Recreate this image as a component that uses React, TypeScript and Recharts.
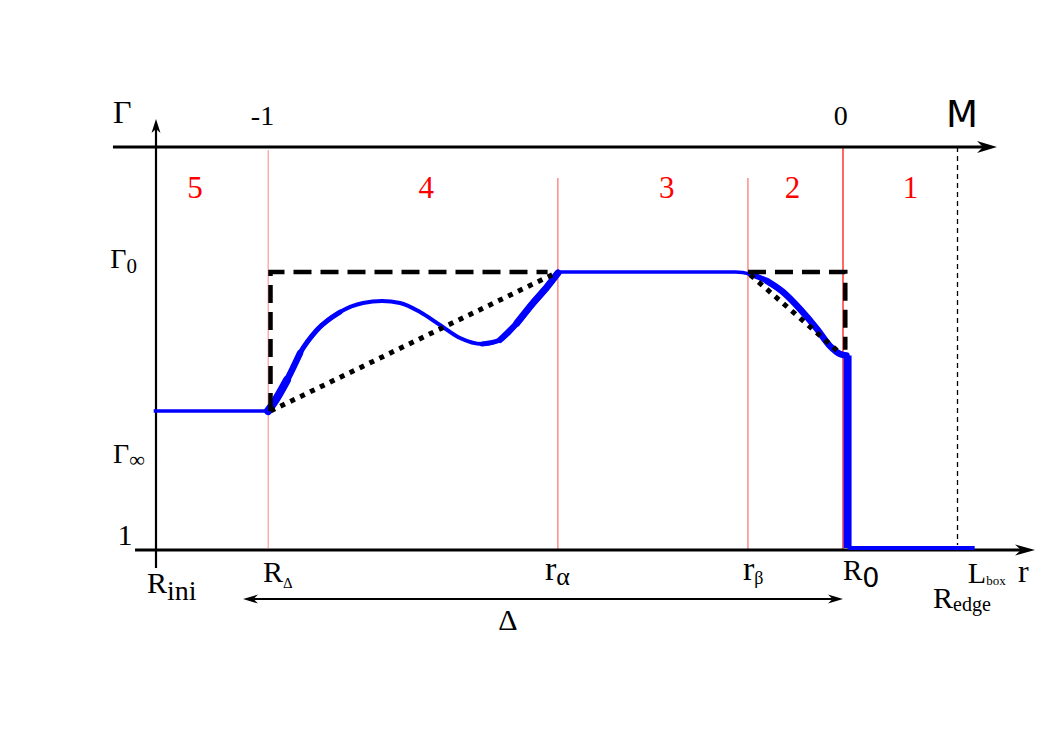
import { LineChart, Line, XAxis, YAxis, ReferenceLine, ReferenceDot } from "recharts"

// zone boundaries along r (arbitrary radius units)
const R_INI = 0
const R_DELTA = 0.98
const R_ALPHA = 3.51
const R_BETA = 5.17
const R_ZERO = 6.0
const L_BOX = 7.0

// Lorentz factor levels
const GAMMA_ONE = 1
const M_LEVEL = 3.9

const zoneNames = ["5", "4", "3", "2", "1"]
const zoneCenters = [0.34, 2.36, 4.46, 5.56, 6.59]
const massTicks = ["-1", "0"]
const massTickAt = [0.93, 5.98]

// blue profile
const plateau = [
  { r: -0.02, g: 2.0 },
  { r: 0.98, g: 2.0 },
]
const rise = [
  { r: 0.978, g: 2.0 },
  { r: 1.03, g: 2.06 },
  { r: 1.144, g: 2.223 },
  { r: 1.258, g: 2.417 },
  { r: 1.406, g: 2.583 },
  { r: 1.607, g: 2.712 },
  { r: 1.808, g: 2.777 },
  { r: 1.974, g: 2.791 },
  { r: 2.131, g: 2.777 },
  { r: 2.306, g: 2.712 },
  { r: 2.48, g: 2.619 },
  { r: 2.655, g: 2.525 },
  { r: 2.847, g: 2.482 },
  { r: 3.004, g: 2.511 },
  { r: 3.153, g: 2.633 },
  { r: 3.293, g: 2.777 },
  { r: 3.415, g: 2.892 },
  { r: 3.511, g: 2.993 },
]
const shell = [
  { r: 3.51, g: 3.0 },
  { r: 5.06, g: 3.0 },
  { r: 5.19, g: 2.985 },
  { r: 5.336, g: 2.935 },
  { r: 5.476, g: 2.856 },
  { r: 5.624, g: 2.734 },
  { r: 5.773, g: 2.59 },
  { r: 5.886, g: 2.468 },
  { r: 5.974, g: 2.41 },
  { r: 6.03, g: 2.4 },
]
const drop = [
  { r: 6.04, g: 2.4 },
  { r: 6.04, g: 1.015 },
]
const floor = [
  { r: 6.04, g: 1.014 },
  { r: 7.15, g: 1.014 },
]

// black dashed (top hat) and dotted (linear ramp) profiles
const hatA = [
  { r: 1.0, g: 2.0 },
  { r: 1.0, g: 3.0 },
  { r: 3.42, g: 3.0 },
]
const hatB = [
  { r: 5.17, g: 3.0 },
  { r: 6.02, g: 3.0 },
  { r: 6.02, g: 2.44 },
]
const rampA = [
  { r: 1.0, g: 2.0 },
  { r: 3.51, g: 3.0 },
]
const rampB = [
  { r: 5.19, g: 2.98 },
  { r: 5.97, g: 2.42 },
]

const serif = "'Liberation Serif', 'Times New Roman', serif"
const sans = "'DejaVu Sans', sans-serif"
const BLUE = "#0000ff"

function arrowShape(len: number, half: number, both = false) {
  return (p: any) => {
    const { x1, y1, x2, y2, stroke, strokeWidth } = p
    const dx = x2 - x1
    const dy = y2 - y1
    const d = Math.hypot(dx, dy) || 1
    const ux = dx / d
    const uy = dy / d
    const head = (tx: number, ty: number, sx: number, sy: number) => {
      const bx = tx - sx * len
      const by = ty - sy * len
      const nx = -sy * half
      const ny = sx * half
      const mx = tx - sx * len * 0.7
      const my = ty - sy * len * 0.7
      return `${tx},${ty} ${bx + nx},${by + ny} ${mx},${my} ${bx - nx},${by - ny}`
    }
    const sx1 = both ? x1 + ux * len * 0.7 : x1
    const sy1 = both ? y1 + uy * len * 0.7 : y1
    return (
      <g>
        <line
          x1={sx1}
          y1={sy1}
          x2={x2 - ux * len * 0.7}
          y2={y2 - uy * len * 0.7}
          stroke={stroke}
          strokeWidth={strokeWidth}
        />
        <polygon points={head(x2, y2, ux, uy)} fill={stroke} />
        {both && <polygon points={head(x1, y1, -ux, -uy)} fill={stroke} />}
      </g>
    )
  }
}

interface WordOpts {
  size?: number
  sub?: string
  subSize?: number
  subDy?: number
  anchor?: "start" | "middle" | "end"
  color?: string
  font?: string
  subFont?: string
  weight?: string
}

function word(key: string, r: number, g: number, main: string, o: WordOpts = {}) {
  const {
    size = 30,
    sub,
    subSize = 20,
    subDy = 6,
    anchor = "start",
    color = "#000",
    font = serif,
    subFont,
    weight = "normal",
  } = o
  return (
    <ReferenceDot
      key={key}
      x={r}
      y={g}
      r={0}
      ifOverflow="visible"
      shape={(p: any) => (
        <text
          x={p.cx}
          y={p.cy}
          fill={color}
          fontFamily={font}
          fontSize={size}
          fontWeight={weight}
          textAnchor={anchor}
        >
          {main}
          {sub && (
            <tspan dy={subDy} fontSize={subSize} fontFamily={subFont ?? font}>
              {sub}
            </tspan>
          )}
        </text>
      )}
    />
  )
}

function blue(key: string, data: any[], width: number, type: "monotone" | "linear" = "monotone") {
  return (
    <Line
      key={key}
      data={data}
      dataKey="g"
      type={type}
      stroke={BLUE}
      strokeWidth={width}
      strokeLinecap={type === "monotone" ? "round" : "butt"}
      dot={false}
      activeDot={false}
      isAnimationActive={false}
    />
  )
}

function black(key: string, data: any[], dash: string, width: number) {
  return (
    <Line
      key={key}
      data={data}
      dataKey="g"
      type="linear"
      stroke="#000"
      strokeWidth={width}
      strokeDasharray={dash}
      dot={false}
      activeDot={false}
      isAnimationActive={false}
    />
  )
}

export default function App() {
  return (
    <LineChart
      width={1037}
      height={729}
      margin={{ top: 6.85, right: 7.35, bottom: 6.3, left: 10.6 }}
    >
      <XAxis dataKey="r" type="number" domain={[-1.2, 7.7]} allowDataOverflow hide />
      <YAxis type="number" domain={[-0.3, 4.85]} allowDataOverflow hide />

      {/* zone boundaries */}
      <ReferenceLine segment={[{ x: R_DELTA, y: 3.878 }, { x: R_DELTA, y: 1.014 }]} stroke="#ff9999" strokeWidth={1.2} />
      <ReferenceLine segment={[{ x: R_ALPHA, y: 3.676 }, { x: R_ALPHA, y: 1.0 }]} stroke="#ff5050" strokeWidth={1} />
      <ReferenceLine segment={[{ x: R_BETA, y: 3.676 }, { x: R_BETA, y: 1.0 }]} stroke="#ff5050" strokeWidth={1} />
      <ReferenceLine segment={[{ x: R_ZERO, y: M_LEVEL }, { x: R_ZERO, y: 1.0 }]} stroke="#ff0000" strokeWidth={1.2} />
      <ReferenceLine
        segment={[{ x: L_BOX, y: M_LEVEL }, { x: L_BOX, y: 1.036 }]}
        stroke="#000"
        strokeWidth={1.3}
        strokeDasharray="5 4"
      />

      {/* axes */}
      <ReferenceLine
        segment={[{ x: -0.183, y: GAMMA_ONE }, { x: 7.677, y: GAMMA_ONE }]}
        stroke="#000"
        strokeWidth={3}
        shape={arrowShape(20, 5.5)}
      />
      <ReferenceLine
        segment={[{ x: -0.376, y: M_LEVEL }, { x: 7.345, y: M_LEVEL }]}
        stroke="#000"
        strokeWidth={3}
        shape={arrowShape(20, 6)}
      />
      <ReferenceLine
        segment={[{ x: R_INI, y: 0.87 }, { x: R_INI, y: 4.1 }]}
        stroke="#000"
        strokeWidth={2.2}
        shape={arrowShape(14, 4.5)}
      />
      <ReferenceLine
        segment={[{ x: 0.76, y: 0.647 }, { x: R_ZERO, y: 0.647 }]}
        stroke="#000"
        strokeWidth={2}
        shape={arrowShape(15, 4.5, true)}
      />

      {/* profiles */}
      {blue("plateau", plateau, 3.5, "linear")}
      {blue("rise", rise, 4)}
      {blue("riseHead", rise.slice(0, 6), 5)}
      {blue("riseHead2", rise.slice(0, 4), 6.5)}
      {blue("riseHead3", rise.slice(0, 3), 8)}
      {blue("riseTail", rise.slice(12), 5)}
      {blue("riseTail2", rise.slice(13), 6)}
      {blue("riseTail3", rise.slice(14), 7)}
      {blue("shell", shell, 3.5)}
      {blue("shellThick", shell.slice(2), 5.5)}
      {blue("shellThick2", shell.slice(3), 6.5)}
      {blue("drop", drop, 8, "linear")}
      {blue("floor", floor, 4, "linear")}
      {black("hatA", hatA, "18 9", 4.5)}
      {black("hatB", hatB, "18 9", 4.5)}
      {black("rampA", rampA, "5 6", 5)}
      {black("rampB", rampB, "5 6", 5)}

      {/* zone numbers */}
      {zoneNames.map((z, i) =>
        word(`zone${z}`, zoneCenters[i], 3.532, z, { size: 31, anchor: "middle", color: "#ff0000" })
      )}

      {/* top axis */}
      {word("gTop", -0.376, 4.072, "Γ", { size: 32 })}
      {massTicks.map((t, i) => word(`m${i}`, massTickAt[i], 4.06, t, { size: 28, anchor: "middle" }))}
      {word("M", 7.04, 4.043, "M", { size: 37, anchor: "middle", font: sans })}

      {/* left labels */}
      {word("g0", -0.4, 3.029, "Γ", { size: 28, sub: "0", subSize: 21, subDy: 5 })}
      {word("ginf", -0.376, 1.626, "Γ", { size: 28, sub: "∞", subSize: 22, subDy: 4 })}
      {word("one", -0.27, 1.036, "1", { size: 30, anchor: "middle" })}

      {/* bottom labels */}
      {word("rini", -0.079, 0.691, "R", { size: 30, sub: "ini", subSize: 28, subDy: 7 })}
      {word("rdelta", 0.934, 0.77, "R", { size: 30, sub: "Δ", subSize: 15, subDy: 6 })}
      {word("ralpha", 3.397, 0.784, "r", { size: 34, sub: "α", subSize: 26, subDy: 5 })}
      {word("rbeta", 5.127, 0.784, "r", { size: 34, sub: "β", subSize: 18, subDy: 4 })}
      {word("r0", 6.0, 0.784, "R", { size: 29, sub: "0", subSize: 27, subDy: 7, subFont: sans })}
      {word("lbox", 7.09, 0.763, "L", { size: 30, sub: "box", subSize: 13, subDy: 2 })}
      {word("raxis", 7.528, 0.77, "r", { size: 32 })}
      {word("redge", 6.786, 0.583, "R", { size: 30, sub: "edge", subSize: 20, subDy: 3 })}
      {word("delta", 3.074, 0.424, "Δ", { size: 30, anchor: "middle" })}
    </LineChart>
  )
}
